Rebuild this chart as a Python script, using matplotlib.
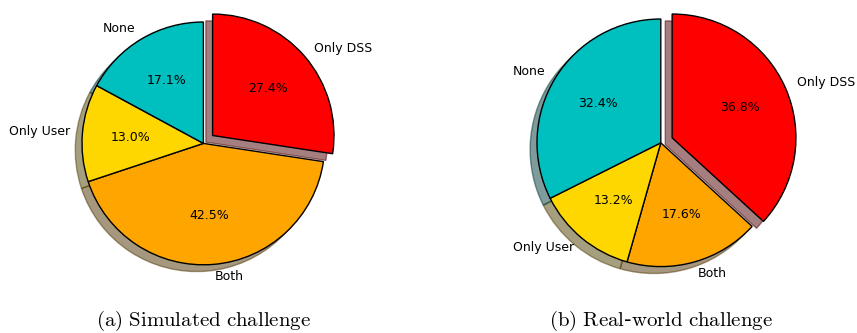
import matplotlib.pyplot as plt

plt.rcParams['mathtext.fontset'] = 'cm'

labels = ['Only DSS', 'Both', 'Only User', 'None']
colors = ['red', 'orange', 'gold', 'c']
explode = [0.1, 0, 0, 0]

simulated = [27.4, 42.5, 13.0, 17.1]
real_world = [36.8, 17.6, 13.2, 32.4]

captions = [r'$\mathrm{(a)\ Simulated\ challenge}$',
            r'$\mathrm{(b)\ Real}$-$\mathrm{world\ challenge}$']

W, H = 857, 333
fig = plt.figure(figsize=(W / 100, H / 100), dpi=100)

# pie centre (px from left, px from top) and radius in px
panels = [(simulated, 203.4, 143.4, 121.4),
          (real_world, 660.8, 142.8, 123.8)]
half = 150

for (values, cx, cy, r), cap in zip(panels, captions):
    ax = fig.add_axes([(cx - half) / W, (H - cy - half) / H, 2 * half / W, 2 * half / H])
    ax.pie(values, labels=labels, colors=colors, explode=explode,
           autopct='%1.1f%%', startangle=90, counterclock=False,
           shadow={'ox': -0.04, 'oy': -0.04},
           wedgeprops={'edgecolor': 'black', 'linewidth': 1},
           textprops={'fontsize': 9})
    lim = half / r
    ax.set_xlim(-lim, lim)
    ax.set_ylim(-lim, lim)
    ax.set_aspect('equal')
    fig.text(cx / W, 7 / H, cap, ha='center', va='baseline', fontsize=15)

fig.savefig('out.png', dpi=100)
